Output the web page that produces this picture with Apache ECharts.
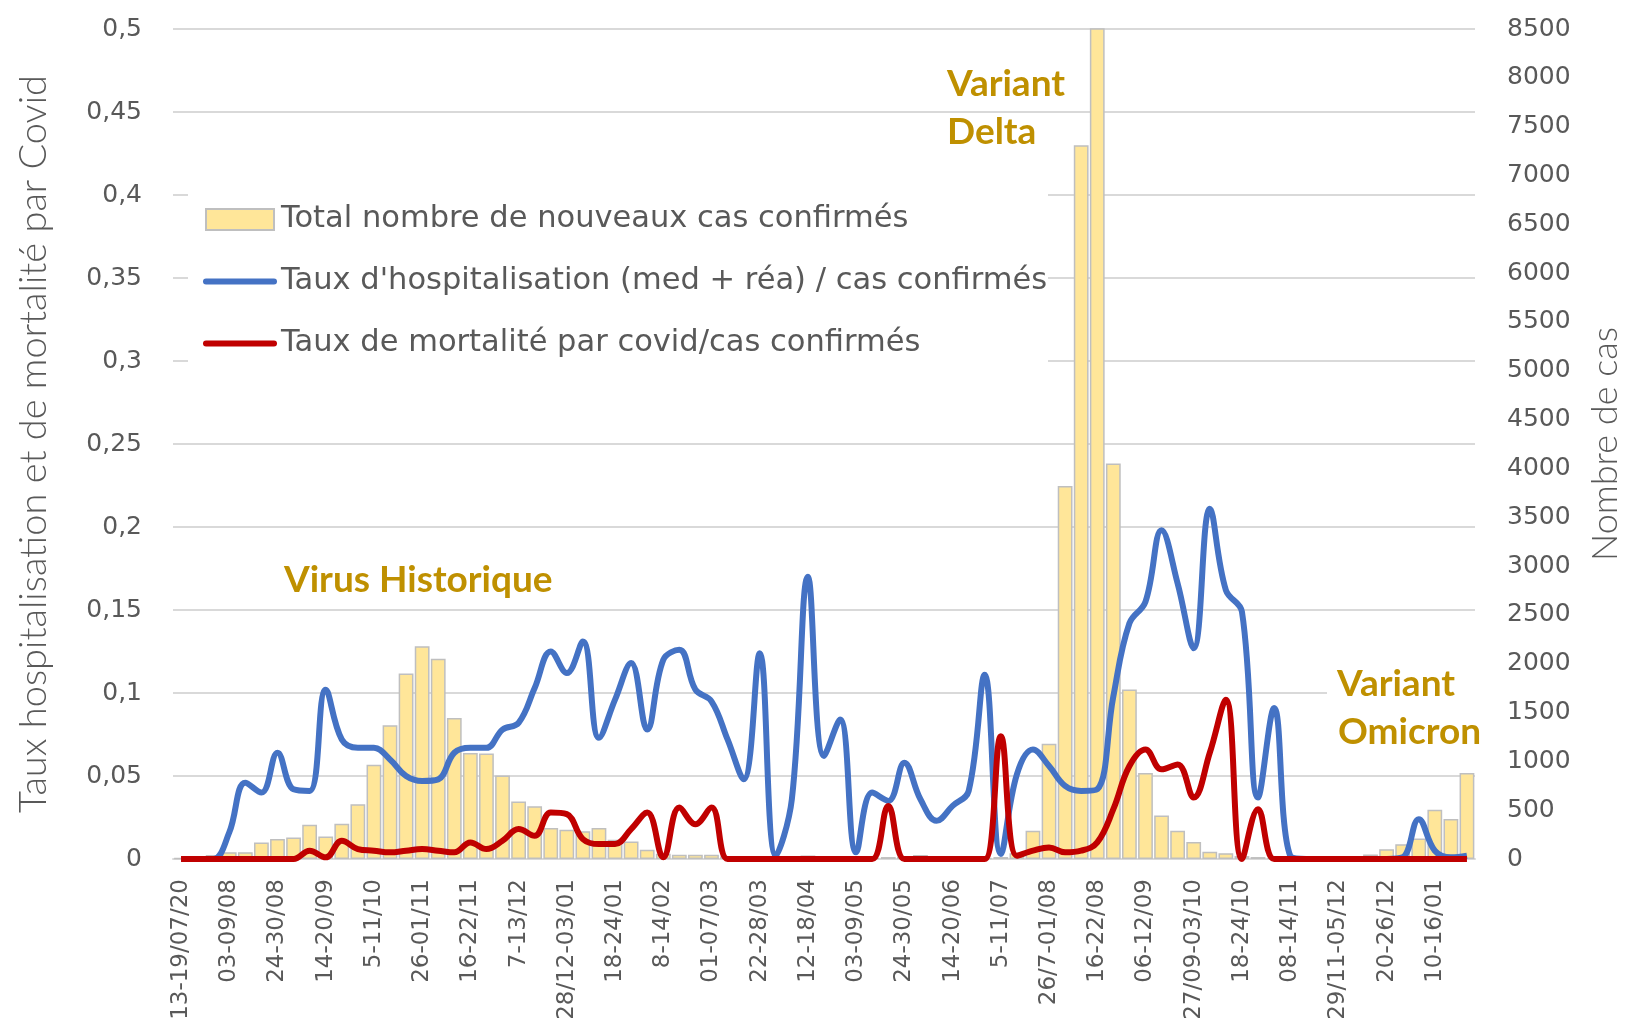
<!DOCTYPE html>
<html>
<head>
<meta charset="utf-8">
<title>Covid - taux hospitalisation et mortalité</title>
<script src="https://cdn.jsdelivr.net/npm/echarts/dist/echarts.min.js"></script>
<style>
  html, body { margin: 0; padding: 0; background: #fff; }
  #chart { width: 1627px; height: 1031px; }
</style>
</head>
<body>
<div id="chart"></div>
<script>
// semaines (une catégorie par semaine)
var semaines = [
  '13-19/07/20', '20-26/07', '27/07-02/08', '03-09/08', '10-16/08', '17-23/08', '24-30/08', '31/08-06/09',
  '07-13/09', '14-20/09', '21-27/09', '28/09-04/10', '5-11/10', '12-18/10', '19-25/10', '26-01/11',
  '02-08/11', '09-15/11', '16-22/11', '23-29/11', '30/11-06/12', '7-13/12', '14-20/12', '21-27/12',
  '28/12-03/01', '04-10/01', '11-17/01', '18-24/01', '25-31/01', '01-07/02', '8-14/02', '15-21/02',
  '22-28/02', '01-07/03', '08-14/03', '15-21/03', '22-28/03', '29/03-04/04', '05-11/04', '12-18/04',
  '19-25/04', '26/04-02/05', '03-09/05', '10-16/05', '17-23/05', '24-30/05', '31/05-06/06', '07-13/06',
  '14-20/06', '21-27/06', '28/06-04/07', '5-11/07', '12-18/07', '19-25/07', '26/7-01/08', '02-08/08',
  '09-15/08', '16-22/08', '23-29/08', '30/08-05/09', '06-12/09', '13-19/09', '20-26/09', '27/09-03/10',
  '04-10/10', '11-17/10', '18-24/10', '25-31/10', '01-07/11', '08-14/11', '15-21/11', '22-28/11',
  '29/11-05/12', '06-12/12', '13-19/12', '20-26/12', '27/12-02/01', '03-09/01', '10-16/01', '17-23/01',
  '24-30/01'
];

// nouveaux cas confirmés (axe de droite)
var nouveauxCas = [
  10, 10, 40, 70, 70, 170, 205, 220, 350, 230,
  360, 560, 965, 1370, 1900, 2180, 2050, 1445, 1085, 1080,
  855, 590, 540, 317, 300, 283, 317, 198, 180, 96,
  55, 44, 44, 44, 27, 20, 15, 15, 20, 35,
  20, 15, 10, 15, 20, 25, 40, 30, 20, 15,
  10, 20, 60, 290, 1180, 3820, 7310, 9200, 4050, 1735,
  880, 445, 290, 175, 75, 60, 30, 20, 15, 10,
  10, 10, 15, 20, 45, 100, 150, 210, 505, 410,
  880
];

// taux d'hospitalisation (med + réa) / cas confirmés
var tauxHospit = [
  0, 0, 0, 0.016, 0.046, 0.040, 0.064, 0.042, 0.041, 0.102,
  0.072, 0.067, 0.067, 0.060, 0.050, 0.047, 0.048, 0.064, 0.067, 0.067,
  0.078, 0.082, 0.103, 0.125, 0.112, 0.131, 0.073, 0.096, 0.118, 0.078,
  0.120, 0.126, 0.102, 0.095, 0.072, 0.048, 0.124, 0.002, 0.036, 0.170,
  0.062, 0.084, 0.004, 0.040, 0.035, 0.058, 0.036, 0.023, 0.032, 0.041,
  0.111, 0.003, 0.051, 0.066, 0.056, 0.044, 0.041, 0.042, 0.098, 0.142,
  0.155, 0.198, 0.166, 0.127, 0.211, 0.162, 0.149, 0.037, 0.091, 0.002,
  0, 0, 0, 0, 0, 0, 0.001, 0.024, 0.005, 0.001,
  0.002
];

// taux de mortalité par covid / cas confirmés
var tauxMortalite = [
  0, 0, 0, 0, 0, 0, 0, 0, 0.005, 0.001,
  0.011, 0.006, 0.005, 0.004, 0.005, 0.006, 0.005, 0.004, 0.010, 0.006,
  0.011, 0.018, 0.014, 0.028, 0.027, 0.012, 0.009, 0.009, 0.018, 0.028,
  0.001, 0.031, 0.021, 0.031, 0, 0, 0, 0, 0, 0,
  0, 0, 0, 0, 0.032, 0, 0, 0, 0, 0,
  0, 0.074, 0.002, 0.005, 0.007, 0.004, 0.005, 0.010, 0.030, 0.056,
  0.066, 0.054, 0.057, 0.037, 0.064, 0.096, 0, 0.030, 0, 0,
  0, 0, 0, 0, 0, 0, 0, 0, 0, 0,
  0
];

var nomCas = 'Total nombre de nouveaux cas confirmés'
    ,nomHospit = "Taux d'hospitalisation (med + réa) / cas confirmés"
    ,nomMort = 'Taux de mortalité par covid/cas confirmés';

var gris = '#595959'
    ,grille = '#d9d9d9'
    ,or = '#bf9000'
    ,bleu = '#4472c4'
    ,rouge = '#c00000'
    ,police = "'DejaVu Sans', sans-serif"
    ,policeTitre = "Lato, sans-serif";

var chart = echarts.init(document.getElementById('chart'), null, {renderer: 'canvas'});

var option = {
    animation: false,
    backgroundColor: '#fff',
    grid: {left: 173, right: 152, top: 29, bottom: 172, containLabel: false, outerBoundsMode: 'none'},
    legend: {
        orient: 'vertical',
        left: 203,
        top: 204,
        padding: 0,
        itemGap: 31,
        itemWidth: 68,
        itemHeight: 21,
        textStyle: {color: gris, fontSize: 30.5, fontFamily: police, padding: [0, 0, 0, 2]},
        data: [
            {name: nomCas, icon: 'rect'},
            {name: nomHospit, itemStyle: {opacity: 0}, lineStyle: {width: 6, cap: 'round'}},
            {name: nomMort, itemStyle: {opacity: 0}, lineStyle: {width: 6, cap: 'round'}}
        ]
    },
    xAxis: {
        type: 'category',
        data: semaines,
        boundaryGap: true,
        axisLine: {lineStyle: {color: grille, width: 2}},
        axisTick: {show: false},
        axisLabel: {
            interval: 2,
            rotate: 90,
            margin: 20,
            color: gris,
            fontSize: 23,
            fontFamily: police
        }
    },
    yAxis: [
        {
            type: 'value',
            min: 0,
            max: 0.5,
            interval: 0.05,
            name: 'Taux hospitalisation et de mortalité par Covid',
            nameLocation: 'middle',
            nameRotate: 90,
            nameGap: 120,
            nameTextStyle: {color: gris, fontSize: 38, fontFamily: policeTitre, fontWeight: 300},
            axisLine: {show: false},
            axisTick: {show: false},
            splitLine: {lineStyle: {color: grille, width: 2}},
            axisLabel: {
                margin: 31,
                color: gris,
                fontSize: 25,
                fontFamily: police,
                formatter: function(v){ return String(Math.round(v * 100) / 100).replace('.', ','); }
            }
        },
        {
            type: 'value',
            min: 0,
            max: 8500,
            interval: 500,
            name: 'Nombre de cas',
            nameLocation: 'middle',
            nameRotate: 90,
            nameGap: 112,
            nameTextStyle: {color: gris, fontSize: 36, fontFamily: policeTitre, fontWeight: 300},
            axisLine: {show: false},
            axisTick: {show: false},
            splitLine: {show: false},
            axisLabel: {
                margin: 32,
                color: gris,
                fontSize: 25,
                fontFamily: police,
                formatter: function(v){ return String(v); }
            }
        }
    ],
    series: [
        {
            name: nomCas,
            type: 'bar',
            yAxisIndex: 1,
            barCategoryGap: '8%',
            clip: true,
            itemStyle: {color: '#ffe699', borderColor: '#bfbfbf', borderWidth: 1.5},
            data: nouveauxCas
        },
        {
            name: nomHospit,
            type: 'line',
            yAxisIndex: 0,
            smooth: 0.4,
            symbol: 'none',
            z: 3,
            lineStyle: {color: bleu, width: 6},
            itemStyle: {color: bleu},
            data: tauxHospit
        },
        {
            name: nomMort,
            type: 'line',
            yAxisIndex: 0,
            smooth: 0.4,
            symbol: 'none',
            z: 4,
            lineStyle: {color: rouge, width: 6},
            itemStyle: {color: rouge},
            data: tauxMortalite
        }
    ],
    graphic: [
        // fond blanc de la légende
        {type: 'rect', z: 1, silent: true, shape: {x: 188, y: 150, width: 860, height: 235}, style: {fill: '#fff'}},
        // fond blanc derrière "Variant Omicron"
        {type: 'rect', z: 1, silent: true, shape: {x: 1327, y: 660, width: 165, height: 92}, style: {fill: '#fff'}},
        {type: 'text', z: 5, style: {text: 'Virus Historique', x: 284, y: 580, fill: or, font: 'bold 37px ' + policeTitre, verticalAlign: 'middle'}},
        {type: 'text', z: 5, style: {text: 'Variant', x: 947, y: 84, fill: or, font: 'bold 37px ' + policeTitre, verticalAlign: 'middle'}},
        {type: 'text', z: 5, style: {text: 'Delta', x: 947, y: 132, fill: or, font: 'bold 37px ' + policeTitre, verticalAlign: 'middle'}},
        {type: 'text', z: 5, style: {text: 'Variant', x: 1337, y: 684, fill: or, font: 'bold 37px ' + policeTitre, verticalAlign: 'middle'}},
        {type: 'text', z: 5, style: {text: 'Omicron', x: 1338, y: 732, fill: or, font: 'bold 37px ' + policeTitre, verticalAlign: 'middle'}}
    ]
};

chart.setOption(option);
window.onresize = chart.resize;
</script>
</body>
</html>
